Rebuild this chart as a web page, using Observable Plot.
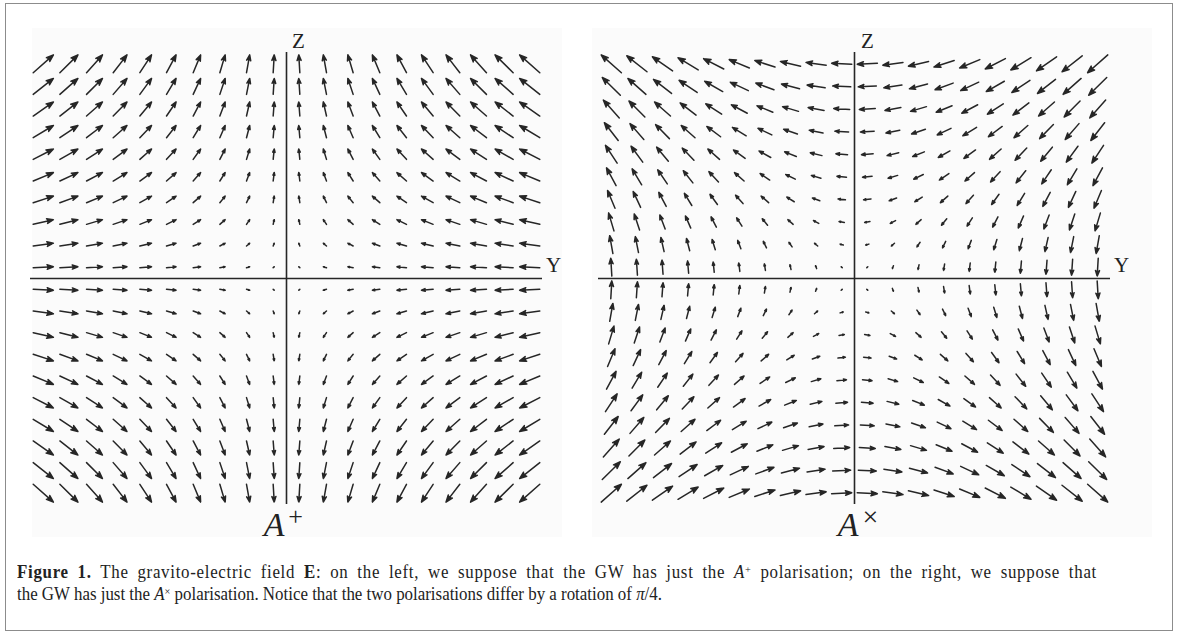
<!DOCTYPE html>
<html><head><meta charset="utf-8">
<script src="https://cdn.jsdelivr.net/npm/d3@7"></script>
<script src="https://cdn.jsdelivr.net/npm/@observablehq/plot@0.6"></script>
<style>
body{margin:0;background:#fff;width:1179px;height:637px;position:relative;overflow:hidden;font-family:"Liberation Serif","Times New Roman",serif}
#frame{position:absolute;left:5px;top:3px;width:1166px;height:626px;border:1px solid #8c8c8c}
.bg{position:absolute;background:#fbfbfb}
#left,#right{position:absolute;top:0}
#left{left:0}
#right{left:570px}
#caption{position:absolute;left:17px;top:561px;font-size:18px;line-height:22px;color:#222;white-space:nowrap}
#caption div{transform-origin:0 0;height:22px;display:inline-block}
.sup{position:relative;top:-0.5em;font-size:11px;line-height:0}
</style></head><body>
<div id="frame"></div>
<div class="bg" style="left:32px;top:28px;width:530px;height:509px"></div>
<div class="bg" style="left:592px;top:28px;width:560px;height:509px"></div>
<div id="left"></div>
<div id="right"></div>
<div id="caption">
<div id="l1"><b>Figure 1.</b> The gravito-electric field <b>E</b>: on the left, we suppose that the GW has just the <i>A</i><span class="sup">+</span> polarisation; on the right, we suppose that</div><br>
<div id="l2">the GW has just the <i>A</i><span class="sup">×</span> polarisation. Notice that the two polarisations differ by a rotation of <i>π</i>/4.</div>
</div>
<script>
// grid coordinates (Y across, Z up)
const gridY = [-9.5,-8.5,-7.5,-6.5,-5.5,-4.5,-3.5,-2.5,-1.5,-0.5,0.5,1.5,2.5,3.5,4.5,5.5,6.5,7.5,8.5,9.5];
const gridZ = [-9.5,-8.5,-7.5,-6.5,-5.5,-4.5,-3.5,-2.5,-1.5,-0.5,0.5,1.5,2.5,3.5,4.5,5.5,6.5,7.5,8.5,9.5];
// A+ panel: horizontal component per column, vertical component per row
const plusEyByColumn = [9.5,8.5,7.5,6.5,5.5,4.5,3.5,2.5,1.5,0.5,-0.5,-1.5,-2.5,-3.5,-4.5,-5.5,-6.5,-7.5,-8.5,-9.5];
const plusEzByRow = [-9.5,-8.5,-7.5,-6.5,-5.5,-4.5,-3.5,-2.5,-1.5,-0.5,0.5,1.5,2.5,3.5,4.5,5.5,6.5,7.5,8.5,9.5];
// Ax panel: horizontal component per row, vertical component per column
const crossEyByRow = [9.5,8.5,7.5,6.5,5.5,4.5,3.5,2.5,1.5,0.5,-0.5,-1.5,-2.5,-3.5,-4.5,-5.5,-6.5,-7.5,-8.5,-9.5];
const crossEzByColumn = [9.5,8.5,7.5,6.5,5.5,4.5,3.5,2.5,1.5,0.5,-0.5,-1.5,-2.5,-3.5,-4.5,-5.5,-6.5,-7.5,-8.5,-9.5];
const axisNames = ["Y","Z"];
const panelSymbol = "A";
const panelSuper = ["+","×"];

function field(eyAt, ezAt){
  const out=[];
  gridY.forEach((y,i)=>gridZ.forEach((z,j)=>out.push({y,z,ey:eyAt(i,j),ez:ezAt(i,j)})));
  return out;
}
const plusField = field((i,j)=>plusEyByColumn[i],(i,j)=>plusEzByRow[j]);
const crossField = field((i,j)=>crossEyByRow[j],(i,j)=>crossEzByColumn[i]);

const K = 0.083; // arrow length in grid units per field unit
const ink = "#262626";
const serif = "Liberation Serif";

function panel(data, sup, o){
  return Plot.plot({
    width:580, height:560,
    marginLeft:o.ml, marginRight:o.mr, marginTop:52, marginBottom:56,
    x:{domain:[-10,10],axis:null},
    y:{domain:[-10,10],axis:null},
    style:{background:"transparent"},
    marks:[
      Plot.ruleX([0],{y1:-10,y2:10,stroke:ink,strokeWidth:1.6}),
      Plot.ruleY([0],{x1:-10,x2:10,stroke:ink,strokeWidth:1.6}),
      Plot.arrow(data,{
        x1:d=>d.y-K*d.ey/2, y1:d=>d.z-K*d.ez/2,
        x2:d=>d.y+K*d.ey/2, y2:d=>d.z+K*d.ez/2,
        stroke:ink, fill:ink, strokeWidth:1.5, headLength:7.5, headAngle:40, strokeLinecap:"round"
      }),
      Plot.text([axisNames[1]],{text:d=>d,x:0,y:10,dx:o.zdx,dy:-11,fontSize:21,fontFamily:serif,fill:"#222"}),
      Plot.text([axisNames[0]],{text:d=>d,x:10,y:0,dx:11,dy:-13,fontSize:21,fontFamily:serif,fill:"#222"}),
      Plot.text([panelSymbol],{text:d=>d,x:0,y:-10,dx:o.adx,dy:21,textAnchor:"end",fontSize:34,fontStyle:"italic",fontFamily:serif,fill:"#222"}),
      Plot.text([sup],{text:d=>d,x:0,y:-10,dx:o.sdx,dy:o.sdy,textAnchor:"middle",fontSize:o.sfs,fontFamily:serif,fill:"#222"})
    ]
  });
}
document.getElementById("left").append(panel(plusField,panelSuper[0],{ml:30,mr:38,zdx:12,adx:-2,sdx:9,sdy:12,sfs:26}));
document.getElementById("right").append(panel(crossField,panelSuper[1],{ml:28,mr:40,zdx:13,adx:4,sdx:16,sdy:13,sfs:28}));

// caption: last line at natural (condensed) width, first line justified (spread over letters and spaces)
const l1=document.getElementById("l1"), l2=document.getElementById("l2");
const s = 645 / l2.getBoundingClientRect().width;
const w1 = l1.getBoundingClientRect().width;
const txt = l1.textContent;
const spaces = (txt.match(/ /g)||[]).length;
const extra = 1080/s - w1;
l1.style.letterSpacing = `${0.5*extra/txt.length}px`;
l1.style.wordSpacing = `${0.5*extra/spaces}px`;
const w1b = l1.getBoundingClientRect().width;
l1.style.wordSpacing = `${0.5*extra/spaces + (1080/s - w1b)/spaces}px`;
l1.style.transform = `scaleX(${s})`;
l2.style.transform = `scaleX(${s})`;
</script>
</body></html>
